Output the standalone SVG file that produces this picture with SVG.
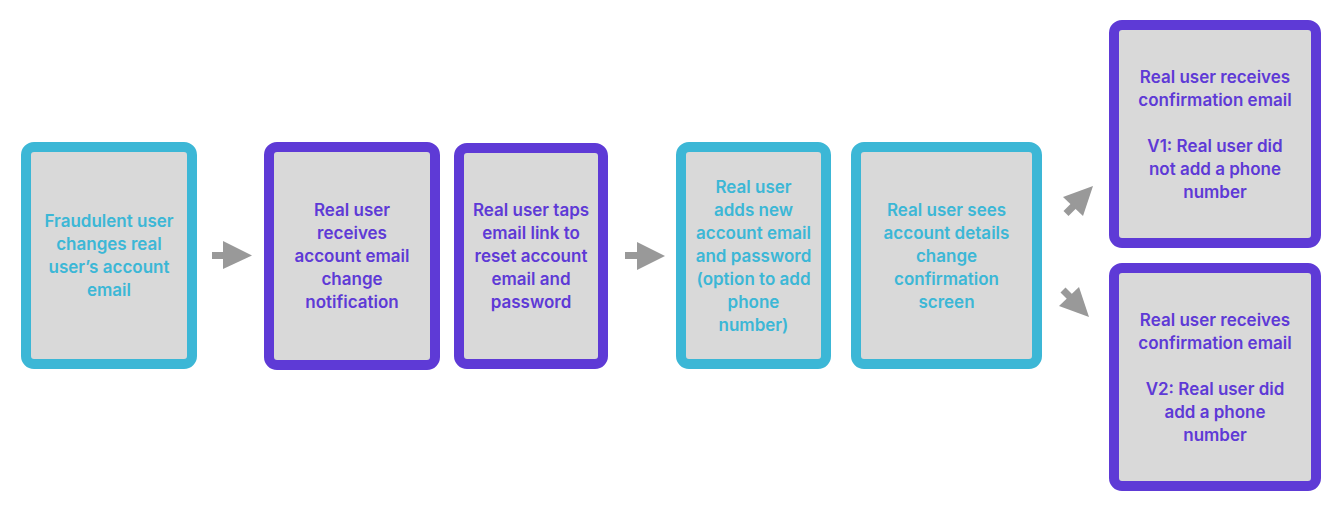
<svg xmlns="http://www.w3.org/2000/svg" width="1338" height="507" viewBox="0 0 1338 507">
<style>
.bc{fill:#D9D9D9;stroke:#3CB7D6;stroke-width:10}
.bp{fill:#D9D9D9;stroke:#5E3AD6;stroke-width:10}
text{font-family:Inter,"Noto Sans",sans-serif;font-weight:600;font-size:17px;text-anchor:middle}
.tc{fill:#3CB7D6}
.tp{fill:#5E3AD6}
.ar{fill:#999999}
.sh{stroke:#999999;stroke-width:7;fill:none}
</style>
<rect width="1338" height="507" fill="#FFFFFF"/>
<g id="n1">
<rect class="bc" x="26" y="147" width="166" height="217" rx="8"/>
<text class="tc"><tspan x="109" y="227">Fraudulent user</tspan><tspan x="109" y="250">changes real</tspan><tspan x="109" y="273">user’s account</tspan><tspan x="109" y="296">email</tspan></text>
</g>
<g id="n2">
<rect class="bp" x="269" y="147" width="166" height="218" rx="8"/>
<text class="tp"><tspan x="352" y="216">Real user</tspan><tspan x="352" y="239">receives</tspan><tspan x="352" y="262">account email</tspan><tspan x="352" y="285">change</tspan><tspan x="352" y="308">notification</tspan></text>
</g>
<g id="n3">
<rect class="bp" x="459" y="148" width="144" height="216" rx="8"/>
<text class="tp"><tspan x="531" y="216">Real user taps</tspan><tspan x="531" y="239">email link to</tspan><tspan x="531" y="262">reset account</tspan><tspan x="531" y="285">email and</tspan><tspan x="531" y="308">password</tspan></text>
</g>
<g id="n4">
<rect class="bc" x="681" y="147" width="145" height="217" rx="8"/>
<text class="tc"><tspan x="753.5" y="193">Real user</tspan><tspan x="753.5" y="216">adds new</tspan><tspan x="753.5" y="239">account email</tspan><tspan x="753.5" y="262">and password</tspan><tspan x="753.5" y="285">(option to add</tspan><tspan x="753.5" y="308">phone</tspan><tspan x="753.5" y="331">number)</tspan></text>
</g>
<g id="n5">
<rect class="bc" x="856" y="147" width="181" height="217" rx="8"/>
<text class="tc"><tspan x="946.5" y="216">Real user sees</tspan><tspan x="946.5" y="239">account details</tspan><tspan x="946.5" y="262">change</tspan><tspan x="946.5" y="285">confirmation</tspan><tspan x="946.5" y="308">screen</tspan></text>
</g>
<g id="n6">
<rect class="bp" x="1114" y="25" width="202" height="218" rx="8"/>
<text class="tp"><tspan x="1215" y="83">Real user receives</tspan><tspan x="1215" y="106">confirmation email</tspan><tspan x="1215" y="152">V1: Real user did</tspan><tspan x="1215" y="175">not add a phone</tspan><tspan x="1215" y="198">number</tspan></text>
</g>
<g id="n7">
<rect class="bp" x="1114" y="268" width="202" height="218" rx="8"/>
<text class="tp"><tspan x="1215" y="326">Real user receives</tspan><tspan x="1215" y="349">confirmation email</tspan><tspan x="1215" y="395">V2: Real user did</tspan><tspan x="1215" y="418">add a phone</tspan><tspan x="1215" y="441">number</tspan></text>
</g>
<g id="connectors">
<rect class="ar" x="212" y="252" width="12" height="7"/>
<polygon class="ar" points="223,241 252,255.5 223,269"/>
<rect class="ar" x="625" y="252" width="13" height="7"/>
<polygon class="ar" points="637,242 665,256 637,270"/>
<line class="sh" x1="1066" y1="213.5" x2="1075" y2="204.5"/>
<polygon class="ar" points="1093,186 1063,197 1083,216"/>
<line class="sh" x1="1063" y1="290" x2="1071" y2="298"/>
<polygon class="ar" points="1089,317 1059,306 1079,287"/>
</g>
</svg>
